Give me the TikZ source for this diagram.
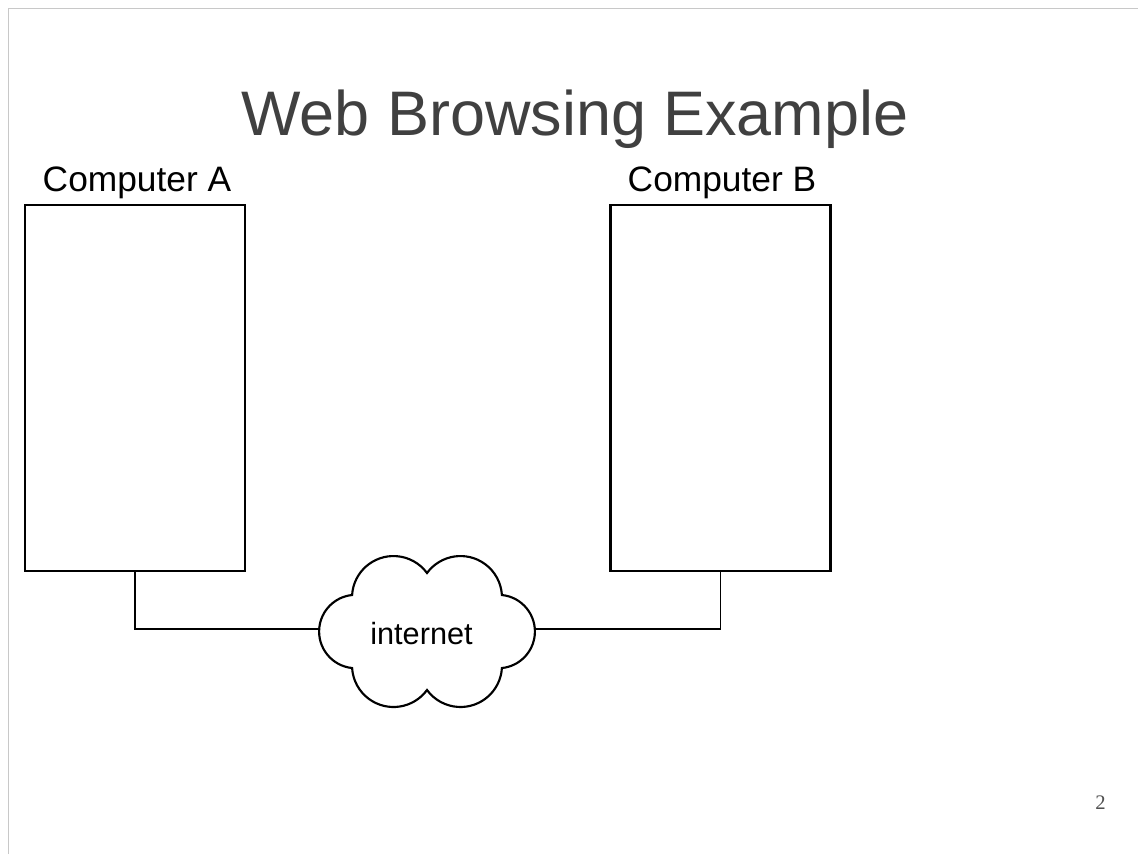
\documentclass[tikz,border=0pt]{standalone}
\usepackage{fontspec}
\setmainfont{Liberation Sans}
\newfontfamily\numfont{Liberation Serif}
\definecolor{titlegray}{HTML}{404040}
\definecolor{framegray}{HTML}{C8C8C8}
\definecolor{numgray}{HTML}{505050}
\begin{document}
\begin{tikzpicture}[x=0.75pt,y=0.75pt,
  compbox/.style={draw=black,line width=1.6pt,minimum width=165pt,
    minimum height=274.5pt,inner sep=0pt},
  lbl/.style={anchor=base,inner sep=0pt,font=\fontsize{26.5}{31}\selectfont},
  wire/.style={line width=1.3pt,draw=black},
  cloudline/.style={line width=1.6pt,draw=black,fill=white,line join=miter}]
\useasboundingbox (0,0) rectangle (1138,-854);

% slide frame
\draw[framegray,line width=1.2pt] (8.5,-854) -- (8.5,-8.5) -- (1138,-8.5);

% title
\node[anchor=base,inner sep=0pt,text=titlegray,
  font=\fontsize{47.2}{56}\selectfont] (title) at (575,-135) {Web Browsing Example};

% the two computers
\node[compbox] (A) at (135,-388) {};
\node[compbox] (B) at (720.5,-388) {};
\node[lbl] (labA) at (137,-191) {Computer A};
\node[lbl] (labB) at (722,-191) {Computer B};

% internet cloud
\coordinate (netW) at (319,-629);
\coordinate (netE) at (536,-629);
\draw[cloudline] (352.1,-595)
  arc[start angle=176.5,end angle=36.2,radius=41.5]
  arc[start angle=143.8,end angle=3.5,radius=41.5]
  arc[start angle=84.2,end angle=-84.2,radius=36.7]
  arc[start angle=-3.5,end angle=-143.8,radius=41.5]
  arc[start angle=-36.2,end angle=-176.5,radius=41.5]
  arc[start angle=264.2,end angle=95.8,radius=36.7] -- cycle;
\node[anchor=base,inner sep=0pt,font=\fontsize{23}{27}\selectfont]
  (net) at (421.5,-644) {internet};

% links
\draw[wire] (A.south) |- (netW);
\draw[wire] (B.south) |- (netE);

% page number
\node[anchor=base,inner sep=0pt,text=numgray,font=\numfont\fontsize{15.5}{18}\selectfont]
  (pg) at (1100.5,-809) {2};
\end{tikzpicture}
\end{document}
